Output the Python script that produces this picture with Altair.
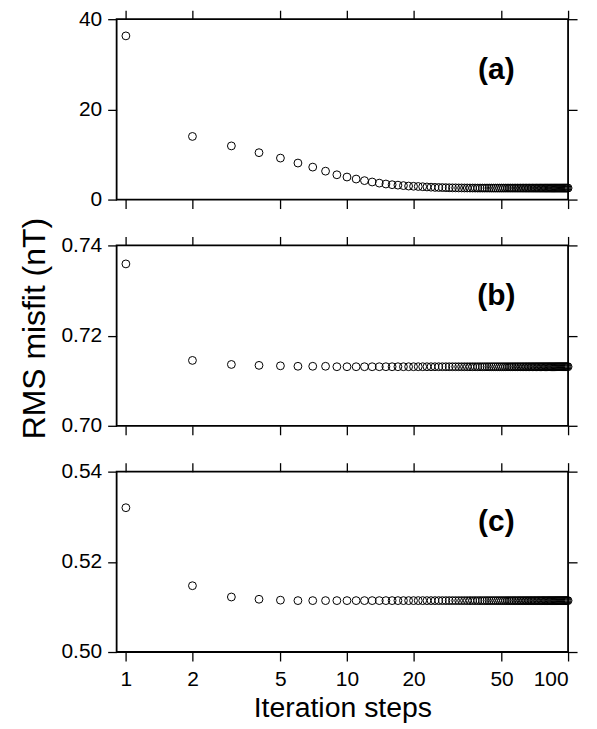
import altair as alt
import pandas as pd

# ---------------- data ----------------
steps = list(range(1, 101))

misfit_a = [
    36.3, 14.0, 11.9, 10.4, 9.2, 8.1, 7.2, 6.3, 5.5, 5.0,
    4.55, 4.2, 3.9, 3.65, 3.45, 3.3, 3.2, 3.1, 3.0, 2.95,
    2.9, 2.85, 2.8, 2.75, 2.7, 2.68, 2.66, 2.64, 2.62, 2.6,
    2.6, 2.58, 2.58, 2.57, 2.57, 2.56, 2.56, 2.56, 2.55, 2.55,
    2.55, 2.55, 2.55, 2.55, 2.55, 2.55, 2.55, 2.55, 2.55, 2.55,
    2.55, 2.55, 2.55, 2.55, 2.55, 2.55, 2.55, 2.55, 2.55, 2.55,
    2.55, 2.55, 2.55, 2.55, 2.55, 2.55, 2.55, 2.55, 2.55, 2.55,
    2.55, 2.55, 2.55, 2.55, 2.55, 2.55, 2.55, 2.55, 2.55, 2.55,
    2.55, 2.55, 2.55, 2.55, 2.55, 2.55, 2.55, 2.55, 2.55, 2.55,
    2.55, 2.55, 2.55, 2.55, 2.55, 2.55, 2.55, 2.55, 2.55, 2.55,
]

misfit_b = [
    0.7359, 0.7145, 0.7136, 0.7134, 0.7133, 0.7132, 0.7132, 0.7132, 0.7131, 0.7131,
    0.7131, 0.7131, 0.7131, 0.7131, 0.7131, 0.7131, 0.7131, 0.7131, 0.7131, 0.7131,
    0.7131, 0.7131, 0.7131, 0.7131, 0.7131, 0.7131, 0.7131, 0.7131, 0.7131, 0.7131,
    0.7131, 0.7131, 0.7131, 0.7131, 0.7131, 0.7131, 0.7131, 0.7131, 0.7131, 0.7131,
    0.7131, 0.7131, 0.7131, 0.7131, 0.7131, 0.7131, 0.7131, 0.7131, 0.7131, 0.7131,
    0.7131, 0.7131, 0.7131, 0.7131, 0.7131, 0.7131, 0.7131, 0.7131, 0.7131, 0.7131,
    0.7131, 0.7131, 0.7131, 0.7131, 0.7131, 0.7131, 0.7131, 0.7131, 0.7131, 0.7131,
    0.7131, 0.7131, 0.7131, 0.7131, 0.7131, 0.7131, 0.7131, 0.7131, 0.7131, 0.7131,
    0.7131, 0.7131, 0.7131, 0.7131, 0.7131, 0.7131, 0.7131, 0.7131, 0.7131, 0.7131,
    0.7131, 0.7131, 0.7131, 0.7131, 0.7131, 0.7131, 0.7131, 0.7131, 0.7131, 0.7131,
]

misfit_c = [
    0.5320, 0.5147, 0.5122, 0.5117, 0.5115, 0.5114, 0.5114, 0.5114, 0.5114, 0.5114,
    0.5114, 0.5114, 0.5114, 0.5114, 0.5114, 0.5114, 0.5114, 0.5114, 0.5114, 0.5114,
    0.5114, 0.5114, 0.5114, 0.5114, 0.5114, 0.5114, 0.5114, 0.5114, 0.5114, 0.5114,
    0.5114, 0.5114, 0.5114, 0.5114, 0.5114, 0.5114, 0.5114, 0.5114, 0.5114, 0.5114,
    0.5114, 0.5114, 0.5114, 0.5114, 0.5114, 0.5114, 0.5114, 0.5114, 0.5114, 0.5114,
    0.5114, 0.5114, 0.5114, 0.5114, 0.5114, 0.5114, 0.5114, 0.5114, 0.5114, 0.5114,
    0.5114, 0.5114, 0.5114, 0.5114, 0.5114, 0.5114, 0.5114, 0.5114, 0.5114, 0.5114,
    0.5114, 0.5114, 0.5114, 0.5114, 0.5114, 0.5114, 0.5114, 0.5114, 0.5114, 0.5114,
    0.5114, 0.5114, 0.5114, 0.5114, 0.5114, 0.5114, 0.5114, 0.5114, 0.5114, 0.5114,
    0.5114, 0.5114, 0.5114, 0.5114, 0.5114, 0.5114, 0.5114, 0.5114, 0.5114, 0.5114,
]

panel_labels = ["(a)", "(b)", "(c)"]
y_domains = [[0, 40], [0.70, 0.74], [0.50, 0.54]]
y_ticks = [[0, 20, 40], [0.70, 0.72, 0.74], [0.50, 0.52, 0.54]]
y_formats = ["d", ".2f", ".2f"]
x_ticks = [1, 2, 5, 10, 20, 50, 100]
x_domain = [0.908, 100]

x_title = "Iteration steps"
y_title = "RMS misfit (nT)"

FONT = "Liberation Sans"
W, H = 453, 181

common_axis = dict(
    tickSize=9, tickWidth=1.3, tickColor="black", domain=False, grid=False,
    labelFont=FONT, labelFontSize=21, labelColor="black",
    titleFont=FONT, titleFontWeight="normal", titleColor="black",
)


def panel(vals, label, ydom, yt, yfmt, is_bottom, is_middle):
    df = pd.DataFrame({"step": steps, "misfit": vals})
    xscale = alt.Scale(type="log", domain=x_domain, nice=False)
    yscale = alt.Scale(domain=ydom, nice=False, zero=False)

    if is_bottom:
        bottom_axis = alt.Axis(orient="bottom", values=x_ticks, format="d",
                               labelBaseline="alphabetic", labelPadding=25,
                               title=x_title, titleBaseline="alphabetic",
                               titleFontSize=28.5, titleY=65, **common_axis)
    else:
        bottom_axis = alt.Axis(orient="bottom", values=x_ticks, labels=False,
                               title=None, **common_axis)

    if is_middle:
        left_axis = alt.Axis(orient="left", values=yt, format=yfmt, labelPadding=6,
                             title=y_title, titleAngle=270, titleBaseline="alphabetic",
                             titleAlign="center", titleX=-72, titleY=83,
                             titleFontSize=32, **common_axis)
    else:
        left_axis = alt.Axis(orient="left", values=yt, format=yfmt, labelPadding=6,
                             title=None, **common_axis)

    top_axis = alt.Axis(orient="top", values=x_ticks, labels=False, title=None, **common_axis)
    right_axis = alt.Axis(orient="right", values=yt, labels=False, title=None, **common_axis)

    pts = alt.Chart(df).mark_point(
        shape="circle", filled=False, color="black", strokeWidth=1, size=62, opacity=1
    ).encode(
        x=alt.X("step:Q", scale=xscale, axis=bottom_axis),
        y=alt.Y("misfit:Q", scale=yscale, axis=left_axis),
    )
    ghost = alt.Chart(df).mark_point(opacity=0).encode(
        x=alt.X("step:Q", scale=xscale, axis=top_axis),
        y=alt.Y("misfit:Q", scale=yscale, axis=right_axis),
    )
    lab = alt.Chart(pd.DataFrame({"t": [label]})).mark_text(
        font=FONT, fontSize=30, fontWeight="bold", color="black",
        align="center", baseline="middle"
    ).encode(text="t:N", x=alt.value(381), y=alt.value(51))

    return alt.layer(pts, ghost, lab).resolve_axis(x="independent", y="independent").properties(
        width=W, height=H
    )


panels = [
    panel(misfit_a, panel_labels[0], y_domains[0], y_ticks[0], y_formats[0], False, False),
    panel(misfit_b, panel_labels[1], y_domains[1], y_ticks[1], y_formats[1], False, True),
    panel(misfit_c, panel_labels[2], y_domains[2], y_ticks[2], y_formats[2], True, False),
]

chart = alt.vconcat(*panels, spacing=46, bounds="flush").properties(
    padding={"left": 10, "top": -2, "right": 10, "bottom": 0}
).configure(
    background="white",
    view=alt.ViewConfig(stroke="black", strokeWidth=1.8),
)

chart.save("out.html", embed_options={"renderer": "svg", "actions": False})
